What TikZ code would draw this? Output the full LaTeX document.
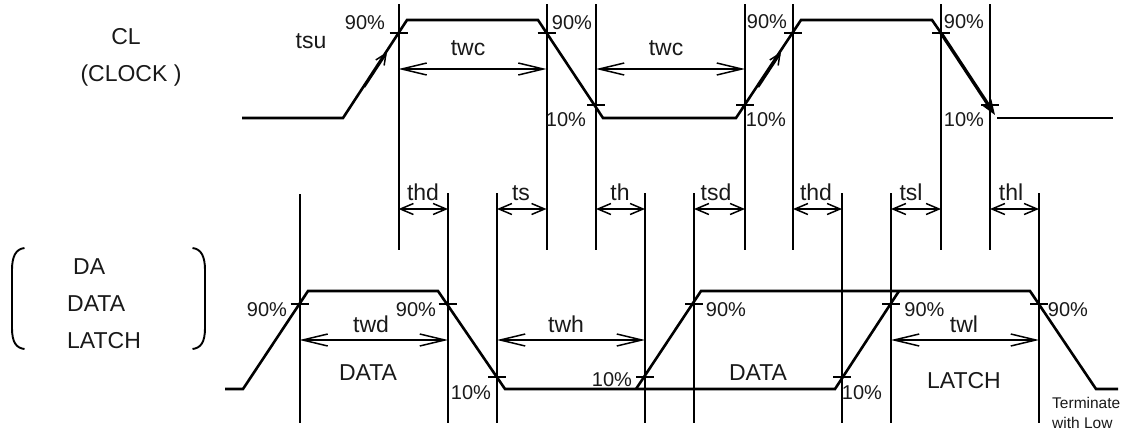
\documentclass[tikz,border=0pt]{standalone}
\usepackage{fontspec}
\setmainfont{Liberation Sans}
\usetikzlibrary{arrows.meta}
\tikzset{
  wave/.style={line width=2.6pt,line join=miter},
  guide/.style={line width=2pt},
  tickm/.style={line width=1.7pt},
  dims/.style={line width=2pt,{Straight Barb[length=13pt,width=11pt,line width=1.5pt]}-{Straight Barb[length=13pt,width=11pt,line width=1.5pt]}},
  diml/.style={line width=2pt,{Straight Barb[length=25pt,width=12pt,line width=1.5pt]}-{Straight Barb[length=25pt,width=12pt,line width=1.5pt]}},
  lab/.style={inner sep=0pt,anchor=base,font=\fontsize{23}{23}\selectfont,text=black!90},
  pct/.style={inner sep=0pt,anchor=base,font=\fontsize{20}{20}\selectfont,text=black!90},
  small/.style={inner sep=0pt,anchor=base west,font=\fontsize{15.5}{15.5}\selectfont,text=black!90}
}
\newcommand{\gd}[4]{\coordinate (#1t) at (#2,#3); \coordinate (#1b) at (#2,#4); \draw[guide] (#1t) -- (#1b);}
\newcommand{\tk}[3]{\coordinate (tka) at (#1-9,#3); \coordinate (tkb) at (#1+9,#3); \draw[tickm] (tka) -- (tkb);}
\begin{document}
\begin{tikzpicture}[x=1pt,y=-1pt]
\useasboundingbox (0,0) rectangle (1125,432);
% guides
\gd{a}{398.5}{4}{250}
\gd{b}{546.5}{4}{250}
\gd{c}{596}{4}{250}
\gd{d}{745}{4}{250}
\gd{e}{793}{4}{250}
\gd{f}{941}{4}{250}
\gd{g}{990}{4}{250}
\gd{h}{299.5}{194}{423}
\gd{i}{448}{193}{423}
\gd{j}{497}{193}{423}
\gd{k}{645}{193}{423}
\gd{l}{694}{193}{423}
\gd{m}{842}{193}{423}
\gd{n}{891}{193}{423}
\gd{o}{1039}{193}{423}
% clock
\draw[wave] (242,118) -- (343,118) -- (407,20) -- (538,20) -- (603,118) -- (736,118) -- (801,20) -- (932,20) -- (941,33);
\draw[wave] (997,118) -- (1113,118);
% data
\draw[wave] (225,389) -- (243,389) -- (308,291) -- (438,291) -- (505,389) -- (835,389) -- (899,291);
\draw[wave] (636,389) -- (701,291) -- (1030,291) -- (1096,389) -- (1118,389);
% ticks
\foreach \x/\y in {398.5/33,546.5/33,596/105,745/105,793/33,941/33,990/105,299.5/304,447.5/304,497/377,645/377,694/304,842/377,891/304,1039/304}
  {\tk{\x}{0}{\y}}
% rising arrows
\draw[wave,-{Straight Barb[length=11pt,width=10pt,line width=1.5pt]}] (364,87) -- (387,52);
\draw[wave,-{Straight Barb[length=11pt,width=10pt,line width=1.5pt]}] (758,87) -- (781,52);
\draw[line width=3.4pt,-{Stealth[length=15pt,width=11pt]}] (941,33) -- (995,115);
% dims
\draw[diml] (at|-0,69) -- (bt|-0,69);
\draw[diml] (ct|-0,69) -- (dt|-0,69);
\draw[dims] (at|-0,209) -- (it|-0,209);
\draw[dims] (jt|-0,209) -- (bt|-0,209);
\draw[dims] (ct|-0,209) -- (kt|-0,209);
\draw[dims] (lt|-0,209) -- (dt|-0,209);
\draw[dims] (et|-0,209) -- (mt|-0,209);
\draw[dims] (nt|-0,209) -- (ft|-0,209);
\draw[dims] (gt|-0,209) -- (ot|-0,209);
\draw[diml] (ht|-0,340) -- (it|-0,340);
\draw[diml] (jt|-0,340) -- (kt|-0,340);
\draw[diml] (nt|-0,340) -- (ot|-0,340);
% labels
\node[lab] (t1) at (468,55) {twc};
\node[lab] (t2) at (666,55) {twc};
\node[lab] (t3) at (311,48.5) {tsu};
\node[lab] (t4) at (423,200) {thd};
\node[lab] (t5) at (521,200) {ts};
\node[lab] (t6) at (620,200) {th};
\node[lab] (t7) at (716,200) {tsd};
\node[lab] (t8) at (816,200) {thd};
\node[lab] (t9) at (911,200) {tsl};
\node[lab] (t10) at (1011,200) {thl};
\node[lab] (t11) at (371,332) {twd};
\node[lab] (t12) at (566,332) {twh};
\node[lab] (t13) at (964,332) {twl};
\node[lab] (t14) at (368,380) {DATA};
\node[lab] (t15) at (758,380) {DATA};
\node[lab] (t16) at (964,388) {LATCH};
\node[lab] (s1) at (126,44) {CL};
\node[lab] (s2) at (131,81.5) {(CLOCK )};
\node[lab,anchor=base west] (s3) at (73,274) {DA};
\node[lab,anchor=base west] (s4) at (67,311) {DATA};
\node[lab,anchor=base west] (s5) at (67,348) {LATCH};
\foreach \x/\y/\n in {365/29/p1,572/29/p2,767/28.5/p3,964/28.5/p4,267/316/p5,416/316/p6,726/316/p7,924.5/316/p8,1068/316/p9}
  {\node[pct] (\n) at (\x,\y) {90\%};}
\foreach \x/\y/\n in {566/126/q1,766/126/q2,964/126/q3,471/399.5/q4,612/386/q5,862/399.5/q6}
  {\node[pct] (\n) at (\x,\y) {10\%};}
\node[small] (tn) at (1052,408) {Terminate};
\node[small] (wl) at (1052,428) {with Low};
% brackets
\draw[line width=1.9pt] (24.5,248) .. controls (16,249) and (12,256) .. (12,270) -- (12,328) .. controls (12,342) and (16,348) .. (24.5,349);
\draw[line width=1.9pt] (192.5,248) .. controls (201,249) and (205,256) .. (205,270) -- (205,328) .. controls (205,342) and (201,348) .. (192.5,349);
\end{tikzpicture}
\end{document}
